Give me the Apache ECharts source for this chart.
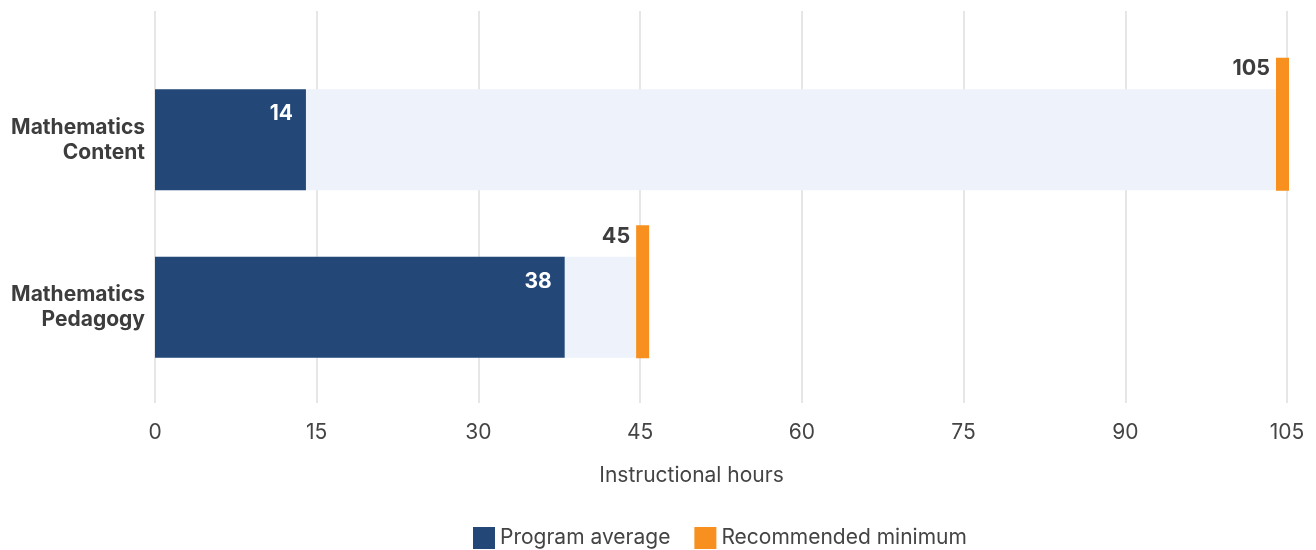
<!DOCTYPE html>
<html>
<head>
<meta charset="utf-8">
<title>Instructional hours</title>
<script src="https://cdn.jsdelivr.net/npm/echarts@6/dist/echarts.min.js"></script>
<style>
  html, body { margin: 0; padding: 0; background: #fff; }
  #chart { width: 1316px; height: 550px; }
</style>
</head>
<body>
<div id="chart"></div>
<script>
  let categories = ['Mathematics\nContent', 'Mathematics\nPedagogy'];
  let programAverage = [14, 38];
  let recommendedMinimum = [105, 45];
  let axisMin = 0;
  let axisMax = 105;
  let axisInterval = 15;

  let fontFamily = 'Inter, "Noto Sans", sans-serif';
  let darkBlue = '#234878';
  let orange = '#f7901e';
  let lightFill = '#eef2fa';

  let chart = echarts.init(document.getElementById('chart'), null, {renderer: 'canvas'});

  let renderMarker = function(params, api) {
    let value = api.value(0);
    let point = api.coord([value, api.value(1)]);
    let sys = params.coordSys;
    let left = point[0] - 4;
    let right = left + 13;
    let maxRight = sys.x + sys.width + 2;
    if (right > maxRight)
    {
      left -= right - maxRight;
      right = maxRight;
    };
    let cy = point[1];
    return {
      type: 'group',
      children: [
        {
          type: 'rect',
          shape: {x: left, y: cy - 82, width: right - left, height: 133},
          style: {fill: orange}
        },
        {
          type: 'text',
          style: {
            text: String(value),
            x: left - 6,
            y: cy - 71,
            align: 'right',
            verticalAlign: 'middle',
            fill: '#3d3d3d',
            fontSize: 21.5,
            fontWeight: 'bold',
            fontFamily: fontFamily
          }
        }
      ]
    };
  };

  let option = {
    animation: false,
    textStyle: {fontFamily: fontFamily},
    legend: {
      left: 468,
      top: 522,
      itemWidth: 22,
      itemHeight: 22,
      itemGap: 24,
      icon: 'rect',
      data: ['Program average', 'Recommended minimum'],
      textStyle: {fontSize: 21, color: '#444', fontFamily: fontFamily}
    },
    grid: [
      {left: 155, right: 29, top: 56, bottom: 159, containLabel: false},
      {left: 155, right: 29, top: 11, bottom: 147, containLabel: false}
    ],
    xAxis: [
      {
        type: 'value', gridIndex: 0, min: axisMin, max: axisMax, interval: axisInterval,
        axisLine: {show: false}, axisTick: {show: false}, axisLabel: {show: false}, splitLine: {show: false}
      },
      {
        type: 'value', gridIndex: 1, min: axisMin, max: axisMax, interval: axisInterval,
        axisLine: {show: false}, axisTick: {show: false},
        axisLabel: {fontSize: 21, color: '#444', margin: 19, fontFamily: fontFamily},
        splitLine: {lineStyle: {color: '#e6e6e6', width: 2}},
        name: 'Instructional hours',
        nameLocation: 'middle',
        nameGap: 62,
        nameTextStyle: {fontSize: 21, color: '#444', padding: [0, 59, 0, 0], fontFamily: fontFamily}
      }
    ],
    yAxis: [
      {
        type: 'category', gridIndex: 0, data: categories, inverse: true,
        axisLine: {show: false}, axisTick: {show: false}, splitLine: {show: false},
        axisLabel: {
          fontSize: 21, fontWeight: 'bold', color: '#3d3d3d', lineHeight: 25,
          margin: 10, align: 'right', fontFamily: fontFamily
        }
      },
      {
        type: 'value', gridIndex: 1, show: false
      }
    ],
    series: [
      {
        type: 'bar',
        xAxisIndex: 0,
        yAxisIndex: 0,
        data: recommendedMinimum,
        barWidth: 101,
        barGap: '-100%',
        itemStyle: {color: lightFill},
        silent: true,
        z: 1
      },
      {
        name: 'Program average',
        type: 'bar',
        xAxisIndex: 0,
        yAxisIndex: 0,
        data: programAverage,
        barWidth: 101,
        barGap: '-100%',
        itemStyle: {color: darkBlue},
        z: 2,
        label: {
          show: true,
          position: 'insideRight',
          distance: 13,
          offset: [0, -26],
          color: '#fff',
          fontSize: 21,
          fontWeight: 'bold',
          fontFamily: fontFamily
        }
      },
      {
        name: 'Recommended minimum',
        type: 'custom',
        xAxisIndex: 0,
        yAxisIndex: 0,
        itemStyle: {color: orange},
        renderItem: renderMarker,
        encode: {x: 0, y: 1},
        data: recommendedMinimum.map((v, i) => [v, i]),
        clip: false,
        z: 3
      }
    ]
  };

  chart.setOption(option);
</script>
</body>
</html>
